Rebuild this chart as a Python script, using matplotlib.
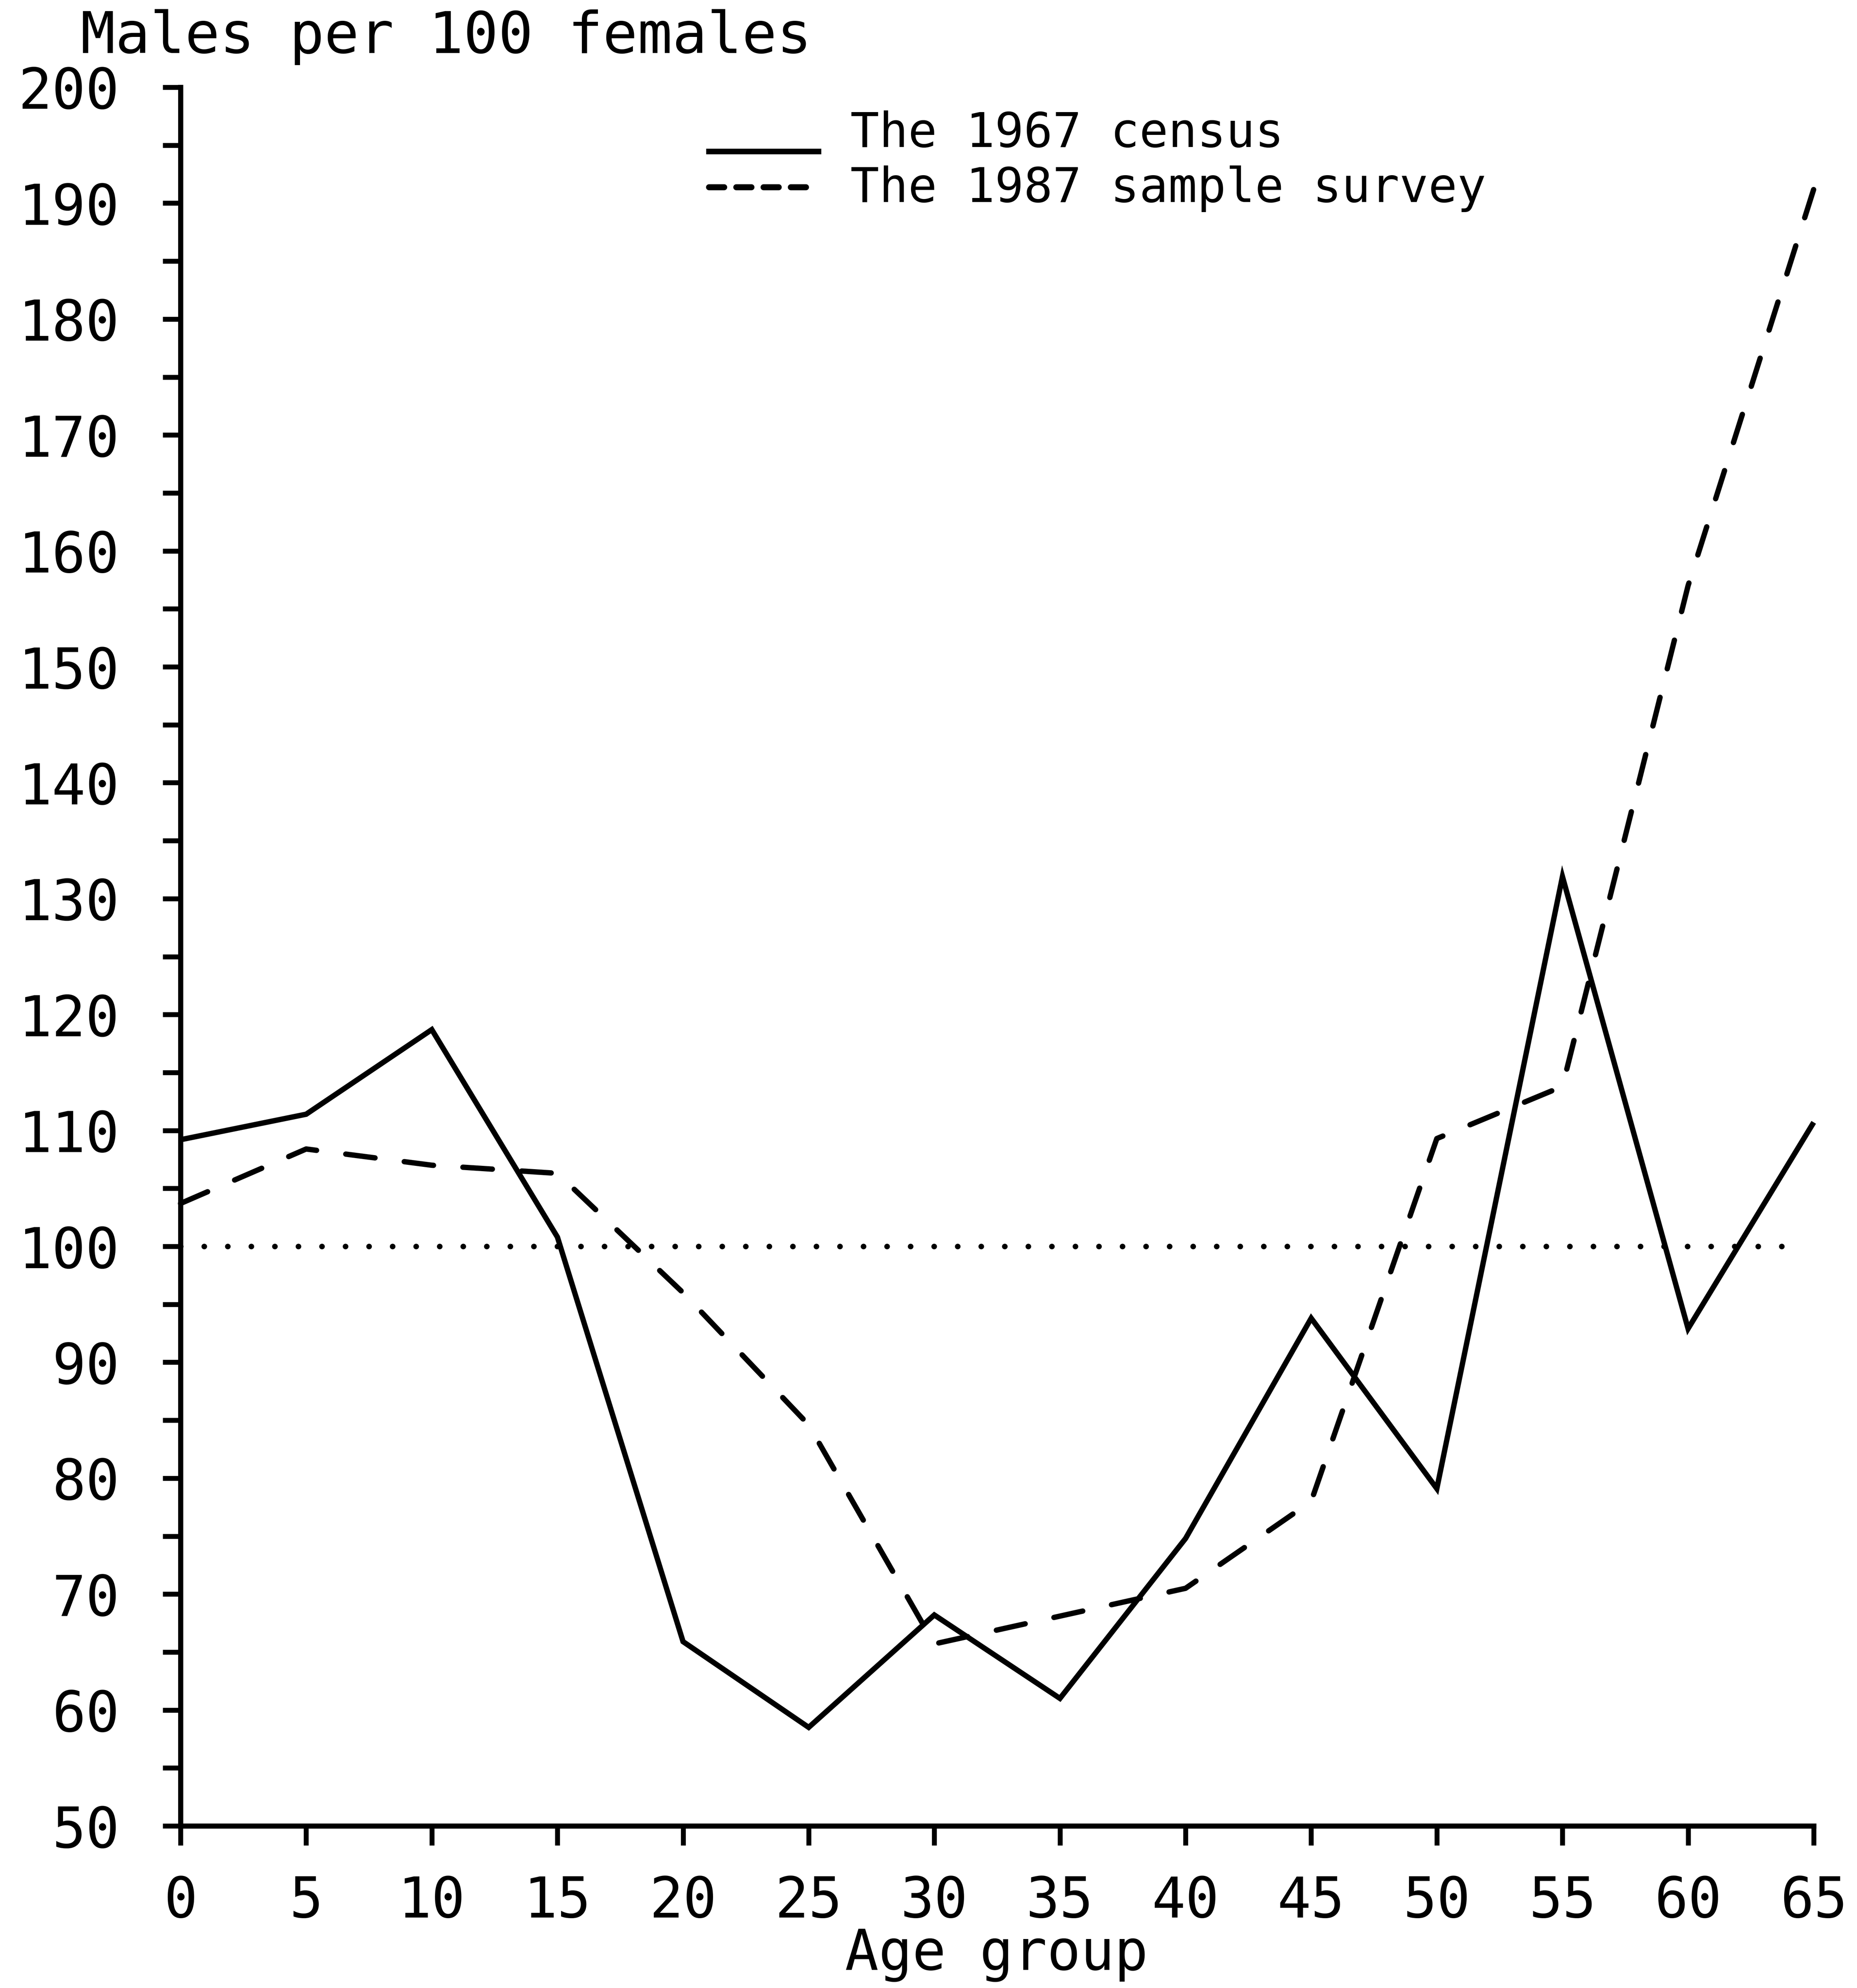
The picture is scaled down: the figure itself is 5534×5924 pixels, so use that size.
import matplotlib
matplotlib.use("Agg")
import matplotlib.pyplot as plt
from matplotlib.lines import Line2D

plt.rcParams["font.family"] = ["DejaVu Sans Mono", "DejaVu Sans"]

# Sex ratio by age group (males per 100 females)
AGE_GROUPS = [0, 5, 10, 15, 20, 25, 30, 35, 40, 45, 50, 55, 60, 65]
CENSUS_1967 = [109.2, 111.4, 118.7, 100.8, 65.9, 58.5, 68.2, 61.0, 74.8, 93.8, 79.1, 131.9, 92.9, 110.7]
SURVEY_1987 = [103.7, 108.4, 107.0, 106.3, 96.0, 84.6, 65.7, 68.1, 70.5, 78.0, 109.3, 113.8, 157.0, 191.2]

PARITY = 100
PARITY_END = 64.3

Y_TICKS = list(range(50, 201, 5))
Y_LABELS = [str(v) if v % 10 == 0 else "" for v in Y_TICKS]
X_TICKS = AGE_GROUPS

LEGEND_LABELS = ["The 1967 census", "The 1987 sample survey"]

W, H, DPI = 5534, 5924, 100


def fx(px):
    return px / W


def fy(py):
    return 1 - py / H


fig = plt.figure(figsize=(W / DPI, H / DPI), dpi=DPI)
ax = fig.add_axes([fx(538), fy(5441), fx(5405) - fx(538), fy(260) - fy(5441)])

ax.plot(AGE_GROUPS, CENSUS_1967, color="black", lw=11.5, solid_joinstyle="miter",
        solid_capstyle="butt", clip_on=False)
ax.plot(AGE_GROUPS, SURVEY_1987, color="black", lw=11.5, linestyle=(0, (5.5, 5.5)),
        dash_capstyle="round", clip_on=False)
ax.plot([0, PARITY_END], [PARITY, PARITY], color="black", lw=12,
        linestyle=(0, (0.01, 4.2)), dash_capstyle="round", clip_on=False)

ax.set_xlim(0, 65)
ax.set_ylim(50, 200)
ax.set_xticks(X_TICKS)
ax.set_xticklabels([str(v) for v in X_TICKS])
ax.set_yticks(Y_TICKS)
ax.set_yticklabels(Y_LABELS)

for side in ["top", "right"]:
    ax.spines[side].set_visible(False)
for side in ["left", "bottom"]:
    ax.spines[side].set_linewidth(11)

ax.tick_params(axis="y", direction="out", length=38, width=10.5, pad=93, labelsize=120)
ax.tick_params(axis="x", direction="out", length=42, width=10.5, pad=62, labelsize=120)

fig.text(fx(240), fy(158), "Males per 100 females", ha="left", va="baseline", fontsize=124)
fig.text(fx(2970), fy(5870), "Age group", ha="center", va="baseline", fontsize=120)

# legend drawn by hand
fig.add_artist(Line2D([fx(2104), fx(2447)], [fy(451), fy(451)], transform=fig.transFigure,
                      color="black", lw=12, solid_capstyle="butt"))
fig.add_artist(Line2D([fx(2113), fx(2412)], [fy(558), fy(558)], transform=fig.transFigure,
                      color="black", lw=13, linestyle=(0, (2.5, 2.0)), dash_capstyle="round"))
fig.text(fx(2534), fy(438), LEGEND_LABELS[0], ha="left", va="baseline", fontsize=103)
fig.text(fx(2534), fy(602), LEGEND_LABELS[1], ha="left", va="baseline", fontsize=103)

fig.savefig("out.png", dpi=DPI, facecolor="white")
